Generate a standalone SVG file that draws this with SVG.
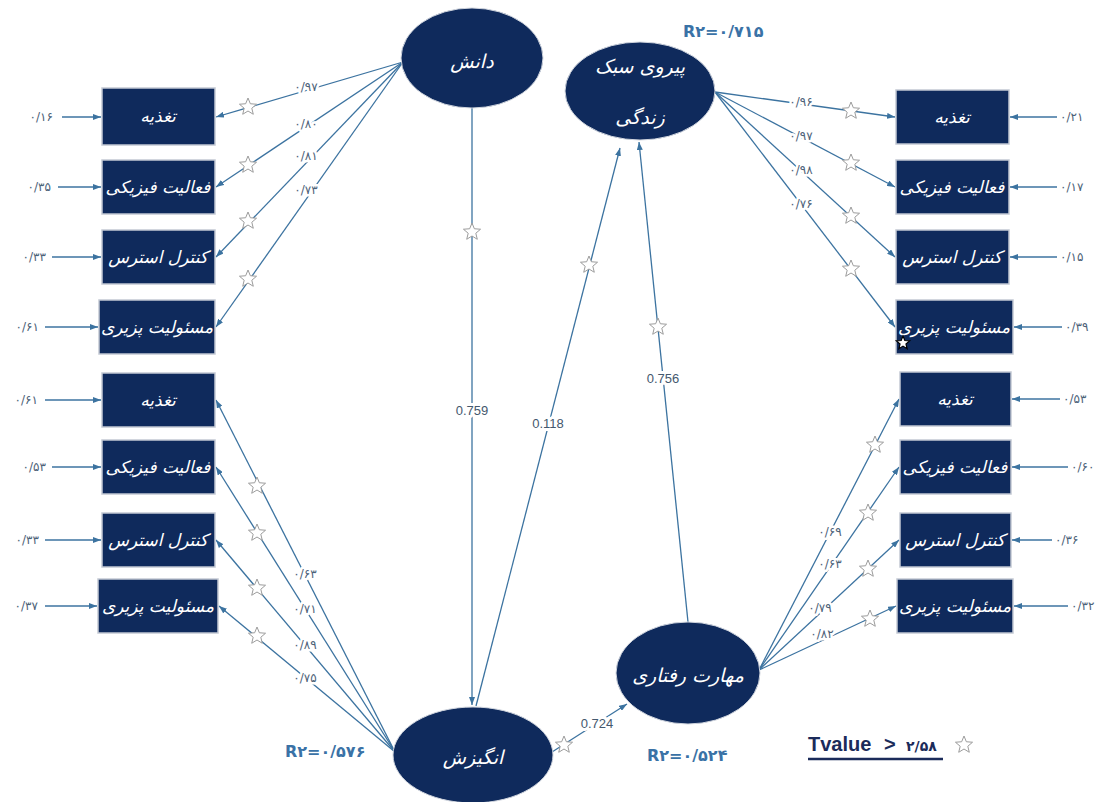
<svg xmlns="http://www.w3.org/2000/svg" xmlns:xlink="http://www.w3.org/1999/xlink" width="1108" height="802" viewBox="0 0 1108 802">
<style>
.box{fill:#0f2a5c;stroke:#c3c9d3;stroke-width:1.5}
.lat{fill:#0f2a5c;stroke:#d0d5de;stroke-width:1}
.bt{font-family:"DejaVu Sans",sans-serif;font-size:17px;fill:#ffffff;text-anchor:middle;font-style:italic}
.lt{font-family:"DejaVu Sans",sans-serif;font-size:19px;fill:#ffffff;text-anchor:middle;font-style:italic}
.ln{fill:none;stroke:#3c73a0;stroke-width:1.3}
.num{font-family:"DejaVu Sans",sans-serif;font-size:12px;fill:#4d6278;text-anchor:middle;paint-order:stroke;stroke:#ffffff;stroke-width:5px;stroke-linejoin:round}
.err{font-family:"DejaVu Sans",sans-serif;font-size:12px;fill:#4d6278}
.path{font-family:"Liberation Sans",sans-serif;font-size:13px;fill:#44586e;text-anchor:middle;paint-order:stroke;stroke:#ffffff;stroke-width:6px;stroke-linejoin:round}
.r2{font-family:"DejaVu Sans",sans-serif;font-size:16px;font-weight:bold;fill:#3a72a6}
.star{fill:#ffffff;stroke:#9c9c9c;stroke-width:1}
</style>
<defs>
<marker id="ah" viewBox="0 0 8 6" refX="8" refY="3" markerWidth="8" markerHeight="6" markerUnits="userSpaceOnUse" orient="auto">
<path d="M0,0 L8,3 L0,6 z" fill="#3c73a0"/>
</marker>
<polygon id="st" points="0,-9 2.35,-3.24 8.56,-2.78 3.8,1.24 5.29,7.28 0,4 -5.29,7.28 -3.8,1.24 -8.56,-2.78 -2.35,-3.24"/>
<polygon id="sts" points="0,-7 1.83,-2.52 6.66,-2.16 2.96,0.96 4.11,5.66 0,3.1 -4.11,5.66 -2.96,0.96 -6.66,-2.16 -1.83,-2.52"/>
</defs>
<rect width="1108" height="802" fill="#ffffff"/>

<g id="connectors">
<line class="ln" x1="62" y1="117" x2="101" y2="117" marker-end="url(#ah)"/>
<line class="ln" x1="58" y1="187" x2="101" y2="187" marker-end="url(#ah)"/>
<line class="ln" x1="52" y1="257" x2="101" y2="257" marker-end="url(#ah)"/>
<line class="ln" x1="45" y1="327" x2="98" y2="327" marker-end="url(#ah)"/>
<line class="ln" x1="45" y1="400" x2="101" y2="400" marker-end="url(#ah)"/>
<line class="ln" x1="52" y1="467" x2="101" y2="467" marker-end="url(#ah)"/>
<line class="ln" x1="45" y1="540" x2="101" y2="540" marker-end="url(#ah)"/>
<line class="ln" x1="45" y1="606" x2="97" y2="606" marker-end="url(#ah)"/>
<line class="ln" x1="1057" y1="117" x2="1010" y2="117" marker-end="url(#ah)"/>
<line class="ln" x1="1057" y1="187" x2="1010" y2="187" marker-end="url(#ah)"/>
<line class="ln" x1="1057" y1="257" x2="1010" y2="257" marker-end="url(#ah)"/>
<line class="ln" x1="1062" y1="327" x2="1014" y2="327" marker-end="url(#ah)"/>
<line class="ln" x1="1060" y1="399" x2="1012" y2="399" marker-end="url(#ah)"/>
<line class="ln" x1="1068" y1="467" x2="1012" y2="467" marker-end="url(#ah)"/>
<line class="ln" x1="1052" y1="540" x2="1012" y2="540" marker-end="url(#ah)"/>
<line class="ln" x1="1068" y1="606" x2="1014" y2="606" marker-end="url(#ah)"/>

<line class="ln" x1="403" y1="62" x2="216" y2="117" marker-end="url(#ah)"/>
<line class="ln" x1="403" y1="62" x2="216" y2="187" marker-end="url(#ah)"/>
<line class="ln" x1="403" y1="62" x2="216" y2="257" marker-end="url(#ah)"/>
<line class="ln" x1="403" y1="62" x2="216" y2="327" marker-end="url(#ah)"/>
<line class="ln" x1="395" y1="752" x2="216" y2="400" marker-end="url(#ah)"/>
<line class="ln" x1="395" y1="752" x2="216" y2="467" marker-end="url(#ah)"/>
<line class="ln" x1="395" y1="752" x2="216" y2="540" marker-end="url(#ah)"/>
<line class="ln" x1="395" y1="752" x2="219" y2="606" marker-end="url(#ah)"/>
<line class="ln" x1="715" y1="92" x2="895" y2="117" marker-end="url(#ah)"/>
<line class="ln" x1="715" y1="92" x2="895" y2="187" marker-end="url(#ah)"/>
<line class="ln" x1="715" y1="92" x2="895" y2="257" marker-end="url(#ah)"/>
<line class="ln" x1="715" y1="92" x2="895" y2="327" marker-end="url(#ah)"/>
<line class="ln" x1="759" y1="670" x2="899" y2="399" marker-end="url(#ah)"/>
<line class="ln" x1="759" y1="670" x2="899" y2="467" marker-end="url(#ah)"/>
<line class="ln" x1="759" y1="670" x2="899" y2="540" marker-end="url(#ah)"/>
<line class="ln" x1="759" y1="670" x2="896" y2="606" marker-end="url(#ah)"/>

<line class="ln" x1="472" y1="108" x2="472" y2="705" marker-end="url(#ah)"/>
<line class="ln" x1="476" y1="706" x2="620" y2="148" marker-end="url(#ah)"/>
<line class="ln" x1="688" y1="622" x2="639" y2="142" marker-end="url(#ah)"/>
<line class="ln" x1="552" y1="752" x2="627" y2="704" marker-end="url(#ah)"/>

<use href="#st" class="star" x="248" y="107"/>
<use href="#st" class="star" x="248" y="165"/>
<use href="#st" class="star" x="248" y="221"/>
<use href="#st" class="star" x="248" y="279"/>
<use href="#st" class="star" x="257" y="486"/>
<use href="#st" class="star" x="257" y="533"/>
<use href="#st" class="star" x="257" y="588"/>
<use href="#st" class="star" x="257" y="636"/>
<use href="#st" class="star" x="851" y="111"/>
<use href="#st" class="star" x="851" y="163"/>
<use href="#st" class="star" x="851" y="216"/>
<use href="#st" class="star" x="851" y="269"/>
<use href="#st" class="star" x="875" y="445"/>
<use href="#st" class="star" x="868" y="513"/>
<use href="#st" class="star" x="868" y="569"/>
<use href="#st" class="star" x="870" y="619"/>
<use href="#st" class="star" x="472" y="232"/>
<use href="#st" class="star" x="589" y="265"/>
<use href="#st" class="star" x="658" y="327"/>
<use href="#st" class="star" x="564" y="745"/>

<text class="num" x="306" y="91">۰/۹۷</text>
<text class="num" x="306" y="128">۰/۸۰</text>
<text class="num" x="306" y="160">۰/۸۱</text>
<text class="num" x="306" y="194">۰/۷۳</text>
<text class="num" x="305" y="578">۰/۶۳</text>
<text class="num" x="305" y="613">۰/۷۱</text>
<text class="num" x="305" y="649">۰/۸۹</text>
<text class="num" x="305" y="682">۰/۷۵</text>
<text class="num" x="801" y="106">۰/۹۶</text>
<text class="num" x="801" y="140">۰/۹۷</text>
<text class="num" x="801" y="174">۰/۹۸</text>
<text class="num" x="801" y="208">۰/۷۶</text>
<text class="num" x="830" y="536">۰/۶۹</text>
<text class="num" x="830" y="568">۰/۶۳</text>
<text class="num" x="820" y="612">۰/۷۹</text>
<text class="num" x="822" y="638">۰/۸۲</text>

<text class="err" x="53" y="121" text-anchor="end">۰/۱۶</text>
<text class="err" x="51" y="191" text-anchor="end">۰/۳۵</text>
<text class="err" x="46" y="261" text-anchor="end">۰/۳۳</text>
<text class="err" x="39" y="331" text-anchor="end">۰/۶۱</text>
<text class="err" x="38" y="404" text-anchor="end">۰/۶۱</text>
<text class="err" x="46" y="471" text-anchor="end">۰/۵۳</text>
<text class="err" x="39" y="544" text-anchor="end">۰/۳۳</text>
<text class="err" x="38" y="610" text-anchor="end">۰/۳۷</text>
<text class="err" x="1060" y="121">۰/۲۱</text>
<text class="err" x="1060" y="191">۰/۱۷</text>
<text class="err" x="1060" y="261">۰/۱۵</text>
<text class="err" x="1065" y="331">۰/۳۹</text>
<text class="err" x="1063" y="403">۰/۵۳</text>
<text class="err" x="1071" y="471">۰/۶۰</text>
<text class="err" x="1055" y="544">۰/۳۶</text>
<text class="err" x="1071" y="610">۰/۳۲</text>

<text class="path" x="472" y="415">0.759</text>
<text class="path" x="548" y="428">0.118</text>
<text class="path" x="663" y="383">0.756</text>
<text class="path" x="597" y="728">0.724</text>
</g>

<g id="node-danesh">
<ellipse class="lat" cx="472" cy="58" rx="71" ry="50"/>
<text class="lt" x="472" y="68">دانش</text>
</g>
<g id="node-peyravi">
<ellipse class="lat" cx="640" cy="91" rx="75" ry="49"/>
<text class="lt" x="640" y="73">پیروی سبک</text>
<text class="lt" x="640" y="124">زندگی</text>
</g>
<g id="node-angizesh">
<ellipse class="lat" cx="473" cy="755" rx="80" ry="48"/>
<text class="lt" x="473" y="764">انگیزش</text>
</g>
<g id="node-maharat">
<ellipse class="lat" cx="688" cy="673" rx="72" ry="51"/>
<text class="lt" x="688" y="682">مهارت رفتاری</text>
</g>

<g id="box-lt1"><rect class="box" x="102" y="88" width="113" height="57"/><text class="bt" x="158" y="122">تغذیه</text></g>
<g id="box-lt2"><rect class="box" x="102" y="160" width="113" height="54"/><text class="bt" x="158" y="193">فعالیت فیزیکی</text></g>
<g id="box-lt3"><rect class="box" x="102" y="230" width="113" height="54"/><text class="bt" x="158" y="263">کنترل استرس</text></g>
<g id="box-lt4"><rect class="box" x="99" y="300" width="116" height="54"/><text class="bt" x="157" y="333">مسئولیت پزیری</text></g>

<g id="box-lb1"><rect class="box" x="102" y="373" width="113" height="54"/><text class="bt" x="158" y="406">تغذیه</text></g>
<g id="box-lb2"><rect class="box" x="102" y="440" width="113" height="54"/><text class="bt" x="158" y="473">فعالیت فیزیکی</text></g>
<g id="box-lb3"><rect class="box" x="102" y="513" width="113" height="54"/><text class="bt" x="158" y="546">کنترل استرس</text></g>
<g id="box-lb4"><rect class="box" x="98" y="579" width="120" height="54"/><text class="bt" x="158" y="612">مسئولیت پزیری</text></g>

<g id="box-rt1"><rect class="box" x="896" y="90" width="113" height="54"/><text class="bt" x="952" y="123">تغذیه</text></g>
<g id="box-rt2"><rect class="box" x="896" y="160" width="113" height="54"/><text class="bt" x="952" y="193">فعالیت فیزیکی</text></g>
<g id="box-rt3"><rect class="box" x="896" y="230" width="113" height="54"/><text class="bt" x="952" y="263">کنترل استرس</text></g>
<g id="box-rt4"><rect class="box" x="896" y="300" width="117" height="54"/><text class="bt" x="954" y="333">مسئولیت پزیری</text>
<use href="#sts" x="903" y="343" fill="#ffffff" stroke="#000000" stroke-width="1.2"/></g>

<g id="box-rb1"><rect class="box" x="900" y="372" width="111" height="54"/><text class="bt" x="955" y="405">تغذیه</text></g>
<g id="box-rb2"><rect class="box" x="900" y="440" width="111" height="54"/><text class="bt" x="955" y="473">فعالیت فیزیکی</text></g>
<g id="box-rb3"><rect class="box" x="900" y="513" width="111" height="54"/><text class="bt" x="955" y="546">کنترل استرس</text></g>
<g id="box-rb4"><rect class="box" x="897" y="579" width="116" height="54"/><text class="bt" x="955" y="612">مسئولیت پزیری</text></g>

<g id="r2-labels">
<text class="r2" x="683" y="37">R۲=۰/۷۱۵</text>
<text class="r2" x="285" y="757">R۲=۰/۵۷۶</text>
<text class="r2" x="647" y="761">R۲=۰/۵۲۴</text>
</g>

<g id="legend">
<text x="808" y="751" font-family="Liberation Sans, sans-serif" font-size="20" font-weight="bold" fill="#1b2b5a">Tvalue<tspan x="884">&gt;</tspan><tspan x="906" font-family="DejaVu Sans, sans-serif" font-size="14">۲/۵۸</tspan></text>
<line x1="808" y1="759" x2="943" y2="759" stroke="#1b2b5a" stroke-width="2.5"/>
<use href="#st" class="star" x="964" y="745"/>
</g>
</svg>
